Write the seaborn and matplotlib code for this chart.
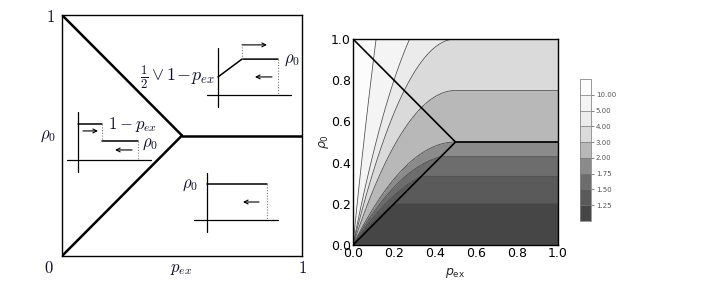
import numpy as np
import pandas as pd
import matplotlib
matplotlib.use("Agg")
import matplotlib.pyplot as plt
from matplotlib.ticker import MultipleLocator
import seaborn as sns

# --- data -------------------------------------------------------------
# contour levels (right panel) and colorbar ticks
levels = [1.0, 1.25, 1.5, 1.75, 2.0, 3.0, 4.0, 5.0, 10.0, 100.0]
cbar_ticks = [1.25, 1.5, 1.75, 2.0, 3.0, 4.0, 5.0, 10.0]
axis_ticks = [0.0, 0.2, 0.4, 0.6, 0.8, 1.0]

# phase boundaries in (p_ex, rho_0)
bound_seg = [0, 0, 1, 1, 2, 2]
bound_x = [0.0, 0.5, 0.0, 0.5, 0.5, 1.0]
bound_y = [1.0, 0.5, 0.0, 0.5, 0.5, 0.5]

# schematic insets of the left panel (p_ex, rho_0 coordinates)
# inset A: upper right phase
a_vaxis = ([0.65, 0.65], [0.618, 0.863])
a_haxis = ([0.604, 0.954], [0.668, 0.668])
a_profile = ([0.65, 0.75, 0.90], [0.743, 0.817, 0.817])
a_dots = [([0.90, 0.90], [0.817, 0.668]), ([0.75, 0.75], [0.817, 0.867])]
a_arrows = [((0.75, 0.876), (0.854, 0.876)), ((0.875, 0.743), (0.804, 0.743))]
# inset B: left phase
b_vaxis = ([0.067, 0.067], [0.349, 0.598])
b_haxis = ([0.021, 0.371], [0.398, 0.398])
b_profile = [([0.067, 0.167], [0.548, 0.548]), ([0.167, 0.317], [0.477, 0.477])]
b_dots = [([0.167, 0.167], [0.548, 0.477]), ([0.317, 0.317], [0.477, 0.398])]
b_arrows = [((0.0875, 0.519), (0.15, 0.519)), ((0.292, 0.44), (0.221, 0.44))]
# inset C: lower phase
c_vaxis = ([0.604, 0.604], [0.10, 0.344])
c_haxis = ([0.55, 0.90], [0.149, 0.149])
c_profile = ([0.604, 0.854], [0.299, 0.299])
c_dots = [([0.854, 0.854], [0.299, 0.149])]
c_arrows = [((0.821, 0.224), (0.754, 0.224))]

band_colors = ["#464646", "#5a5a5a", "#6d6d6d", "#8b8b8b", "#b8b8b8",
               "#dadada", "#ebebeb", "#f4f4f4", "#fcfcfc"]

# --- field on the grid --------------------------------------------------
p = np.linspace(0.0005, 1.0, 600)
r = np.linspace(0.0, 1.0, 600)
P, R = np.meshgrid(p, r)
m = np.minimum(np.minimum(P, R), 0.5)
with np.errstate(divide="ignore", invalid="ignore"):
    F = np.where(m == R, 1.0 / (1.0 - R), R / (m * (1.0 - m)))
F = np.clip(F, 1.0, 99.0)

sns.set_style("white")
plt.rcParams["font.family"] = ["DejaVu Sans"]

fig = plt.figure(figsize=(7.18, 2.97), dpi=100)
W, H = 718.0, 297.0

# --- left panel: schematic phase diagram --------------------------------
ax1 = fig.add_axes([62 / W, (297 - 256) / H, 240 / W, 241 / H])
ax1.set_xlim(0, 1)
ax1.set_ylim(0, 1)
ax1.set_xticks([])
ax1.set_yticks([])
for s in ax1.spines.values():
    s.set_visible(True)
    s.set_color("black")
    s.set_linewidth(1.0)

bdf = pd.DataFrame({"seg": bound_seg, "x": bound_x, "y": bound_y})
sns.lineplot(data=bdf, x="x", y="y", units="seg", estimator=None, sort=False,
             color="black", lw=1.8, ax=ax1)

txt = dict(math_fontfamily="cm", color="#10102a", fontsize=12)
ax1.text(-0.05, 0.99, "$1$", ha="center", va="center", clip_on=False, **txt)
ax1.text(-0.06, 0.5, r"$\rho_0$", ha="center", va="center", clip_on=False, **txt)
ax1.text(-0.055, -0.05, "$0$", ha="center", va="center", clip_on=False, **txt)
ax1.text(0.496, -0.05, r"$p_{ex}$", ha="center", va="center", clip_on=False, **txt)
ax1.text(1.0, -0.05, "$1$", ha="center", va="center", clip_on=False, **txt)


def draw_inset(vaxis, haxis, profiles, dots, arrows):
    ax1.plot(*vaxis, color="black", lw=0.9)
    ax1.plot(*haxis, color="black", lw=0.9)
    for prof in profiles:
        ax1.plot(*prof, color="black", lw=1.1)
    for d in dots:
        ax1.plot(*d, color="#777777", lw=0.8, ls=(0, (1, 1.5)))
    for start, end in arrows:
        ax1.annotate("", xy=end, xytext=start,
                     arrowprops=dict(arrowstyle="->", lw=0.8, color="black",
                                     shrinkA=0, shrinkB=0, mutation_scale=7))


draw_inset(a_vaxis, a_haxis, [a_profile], a_dots, a_arrows)
draw_inset(b_vaxis, b_haxis, b_profile, b_dots, b_arrows)
draw_inset(c_vaxis, c_haxis, [c_profile], c_dots, c_arrows)

ax1.text(0.925, 0.817, r"$\rho_0$", ha="left", va="center", **txt)
ax1.text(0.634, 0.741, r"$\frac{1}{2}\vee 1\!-\!p_{ex}$", ha="right", va="center",
         math_fontfamily="cm", color="#10102a", fontsize=13)
ax1.text(0.19, 0.545, r"$1-p_{ex}$", ha="left", va="center", **txt)
ax1.text(0.333, 0.468, r"$\rho_0$", ha="left", va="center", **txt)
ax1.text(0.566, 0.299, r"$\rho_0$", ha="right", va="center", **txt)

# --- right panel: contour plot --------------------------------------------
ax2 = fig.add_axes([353 / W, (297 - 245) / H, 205 / W, 206 / H])
cs = ax2.contourf(P, R, F, levels=levels, colors=band_colors)
ax2.contour(P, R, F, levels=levels[1:-1], colors="#4a4a4a", linewidths=0.55)
sns.lineplot(data=bdf, x="x", y="y", units="seg", estimator=None, sort=False,
             color="black", lw=1.2, ax=ax2)
ax2.set_xlim(0, 1)
ax2.set_ylim(0, 1)
ax2.set_xticks(axis_ticks)
ax2.set_yticks(axis_ticks)
ax2.set_xticklabels([f"{t:.1f}" for t in axis_ticks])
ax2.set_yticklabels([f"{t:.1f}" for t in axis_ticks])
ax2.xaxis.set_minor_locator(MultipleLocator(0.05))
ax2.yaxis.set_minor_locator(MultipleLocator(0.05))
ax2.tick_params(which="both", direction="in", top=True, right=True,
                bottom=True, left=True, width=0.6, colors="black", labelsize=9)
ax2.tick_params(which="major", length=3.5, pad=1.5)
ax2.tick_params(which="minor", length=2)
for s in ax2.spines.values():
    s.set_visible(True)
    s.set_color("black")
    s.set_linewidth(1.0)
ax2.set_xlabel(r"$p_{\rm ex}$", fontsize=9, labelpad=4)
ax2.set_ylabel(r"$\rho_0$", fontsize=9, labelpad=0)

# --- colorbar -------------------------------------------------------------
cax = fig.add_axes([580 / W, (297 - 221) / H, 11 / W, 142 / H])
cb = fig.colorbar(cs, cax=cax, ticks=cbar_ticks, format="%.2f", drawedges=True)
cb.outline.set_edgecolor("#888888")
cb.outline.set_linewidth(0.6)
cb.dividers.set_color("#777777")
cb.dividers.set_linewidth(0.5)
cax.tick_params(labelsize=5, colors="#555555", length=2, width=0.5, pad=1.5)

fig.savefig("out.png", dpi=100)
